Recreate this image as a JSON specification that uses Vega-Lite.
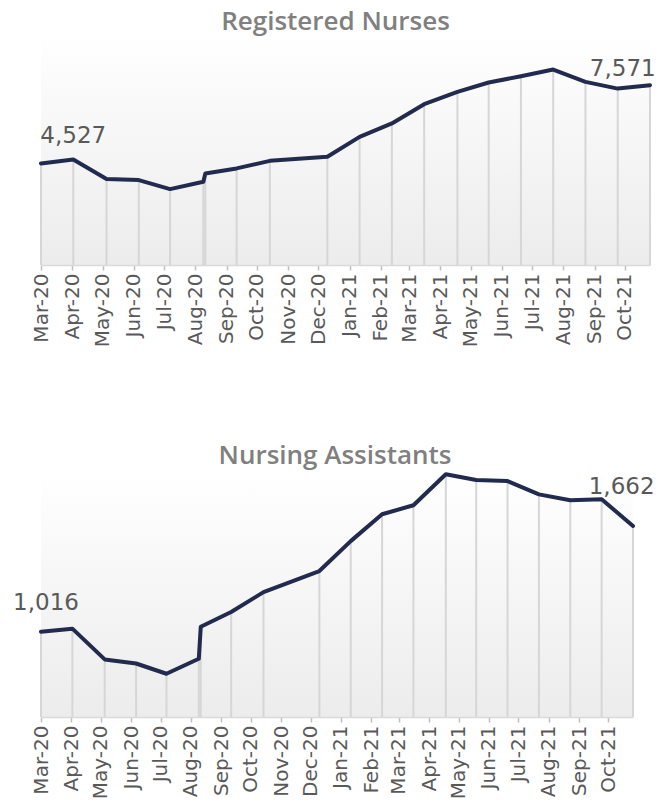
{
  "$schema": "https://vega.github.io/schema/vega-lite/v6.json",
  "padding": {"left": 13, "top": 9, "right": 0, "bottom": 0},
  "background": "#ffffff",
  "config": {
    "font": "DejaVu Sans",
    "view": {"stroke": null},
    "concat": {"spacing": 96},
    "axisX": {
      "format": "%b-%y",
      "labelAngle": -90,
      "labelFontSize": 20,
      "labelColor": "#595959",
      "labelFont": "DejaVu Sans",
      "labelPadding": 3,
      "labelOverlap": false,
      "labelFlush": false,
      "tickColor": "#bfbfbf",
      "tickSize": 5,
      "tickWidth": 1.5,
      "domainColor": "#d9d9d9",
      "domainWidth": 1.5,
      "grid": false,
      "title": null,
      "tickCount": {"interval": "month", "step": 1}
    }
  },
  "datasets": {
    "rn": [
      {"date": "2020/03/01", "value": 4360, "lab": ""},
      {"date": "2020/04/02", "value": 4527, "lab": "first"},
      {"date": "2020/05/05", "value": 3687, "lab": ""},
      {"date": "2020/06/06", "value": 3644, "lab": ""},
      {"date": "2020/07/07", "value": 3258, "lab": ""},
      {"date": "2020/08/09", "value": 3571, "lab": ""},
      {"date": "2020/08/11", "value": 3931, "lab": ""},
      {"date": "2020/09/11", "value": 4145, "lab": ""},
      {"date": "2020/10/14", "value": 4471, "lab": ""},
      {"date": "2020/12/10", "value": 4643, "lab": ""},
      {"date": "2021/01/11", "value": 5500, "lab": ""},
      {"date": "2021/02/12", "value": 6075, "lab": ""},
      {"date": "2021/03/16", "value": 6902, "lab": ""},
      {"date": "2021/04/18", "value": 7429, "lab": ""},
      {"date": "2021/05/19", "value": 7832, "lab": ""},
      {"date": "2021/06/20", "value": 8102, "lab": ""},
      {"date": "2021/07/22", "value": 8390, "lab": ""},
      {"date": "2021/08/23", "value": 7858, "lab": ""},
      {"date": "2021/09/24", "value": 7571, "lab": "last"},
      {"date": "2021/10/26", "value": 7717, "lab": ""}
    ],
    "na": [
      {"date": "2020/03/01", "value": 1016, "lab": "first"},
      {"date": "2020/04/02", "value": 1031, "lab": ""},
      {"date": "2020/05/05", "value": 881, "lab": ""},
      {"date": "2020/06/06", "value": 861, "lab": ""},
      {"date": "2020/07/07", "value": 811, "lab": ""},
      {"date": "2020/08/09", "value": 884, "lab": ""},
      {"date": "2020/08/11", "value": 1040, "lab": ""},
      {"date": "2020/09/11", "value": 1112, "lab": ""},
      {"date": "2020/10/14", "value": 1209, "lab": ""},
      {"date": "2020/12/10", "value": 1312, "lab": ""},
      {"date": "2021/01/11", "value": 1458, "lab": ""},
      {"date": "2021/02/12", "value": 1589, "lab": ""},
      {"date": "2021/03/16", "value": 1633, "lab": ""},
      {"date": "2021/04/18", "value": 1784, "lab": ""},
      {"date": "2021/05/19", "value": 1756, "lab": ""},
      {"date": "2021/06/20", "value": 1751, "lab": ""},
      {"date": "2021/07/22", "value": 1686, "lab": ""},
      {"date": "2021/08/23", "value": 1657, "lab": ""},
      {"date": "2021/09/24", "value": 1662, "lab": "last"},
      {"date": "2021/10/26", "value": 1532, "lab": ""}
    ]
  },
  "vconcat": [
    {
      "title": {"text": "Registered Nurses", "fontSize": 26, "fontWeight": 600, "color": "#808080", "anchor": "middle", "dx": -10, "offset": -3, "font": "Open Sans"},
      "width": 609,
      "height": 233,
      "view": {"stroke": null, "fill": {"gradient": "linear", "x1": 0, "y1": 0, "x2": 0, "y2": 1, "stops": [{"offset": 0, "color": "#ffffff"}, {"offset": 1, "color": "#ececec"}]}},
      "data": {"name": "rn"},
      "encoding": {
        "x": {"field": "date", "type": "temporal", "scale": {"domain": [{"year": 2020, "month": 3, "date": 1}, {"year": 2021, "month": 10, "date": 26}], "nice": false}},
        "y": {"field": "value", "type": "quantitative", "scale": {"domain": [0, 10000], "nice": false}, "axis": null}
      },
      "layer": [
        {"mark": {"type": "rule", "color": "#d6d6d6", "strokeWidth": 2}, "encoding": {"y2": {"datum": 0}}},
        {"mark": {"type": "line", "color": "#222a4e", "strokeWidth": 4, "strokeJoin": "round", "strokeCap": "round"}},
        {"transform": [{"filter": "datum.lab == 'first'"}], "mark": {"type": "text", "fontSize": 23, "color": "#595959", "baseline": "alphabetic", "dy": -17, "dx": 0}, "encoding": {"text": {"field": "value", "type": "quantitative", "format": ","}}},
        {"transform": [{"filter": "datum.lab == 'last'"}], "mark": {"type": "text", "fontSize": 23, "color": "#595959", "baseline": "alphabetic", "dy": -13, "dx": 5}, "encoding": {"text": {"field": "value", "type": "quantitative", "format": ","}}}
      ]
    },
    {
      "title": {"text": "Nursing Assistants", "fontSize": 26, "fontWeight": 600, "color": "#808080", "anchor": "middle", "dx": -2, "offset": 2, "font": "Open Sans"},
      "width": 592,
      "height": 246,
      "view": {"stroke": null, "fill": {"gradient": "linear", "x1": 0, "y1": 0, "x2": 0, "y2": 1, "stops": [{"offset": 0, "color": "#ffffff"}, {"offset": 1, "color": "#ececec"}]}},
      "data": {"name": "na"},
      "encoding": {
        "x": {"field": "date", "type": "temporal", "scale": {"domain": [{"year": 2020, "month": 3, "date": 1}, {"year": 2021, "month": 10, "date": 26}], "nice": false}},
        "y": {"field": "value", "type": "quantitative", "scale": {"domain": [600, 1800], "nice": false, "zero": false}, "axis": null}
      },
      "layer": [
        {"mark": {"type": "rule", "color": "#d6d6d6", "strokeWidth": 2}, "encoding": {"y2": {"datum": 600}}},
        {"mark": {"type": "line", "color": "#222a4e", "strokeWidth": 4, "strokeJoin": "round", "strokeCap": "round"}},
        {"transform": [{"filter": "datum.lab == 'first'"}], "mark": {"type": "text", "fontSize": 23, "color": "#595959", "baseline": "alphabetic", "dy": -22, "dx": 5}, "encoding": {"text": {"field": "value", "type": "quantitative", "format": ","}}},
        {"transform": [{"filter": "datum.lab == 'last'"}], "mark": {"type": "text", "fontSize": 23, "color": "#595959", "baseline": "alphabetic", "dy": -5, "dx": 20}, "encoding": {"text": {"field": "value", "type": "quantitative", "format": ","}}}
      ]
    }
  ]
}
